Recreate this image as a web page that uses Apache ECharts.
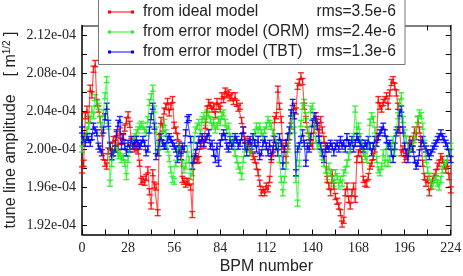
<!DOCTYPE html>
<html><head><meta charset="utf-8">
<script src="https://cdn.jsdelivr.net/npm/echarts@6/dist/echarts.min.js"></script>
<style>html,body{margin:0;padding:0;background:#fff}#c{width:463px;height:276px}</style>
</head><body><div id="c"></div>
<script>
// values in units of 1e-4 m^(1/2)
const seriesNames = ['from ideal model', 'from error model (ORM)', 'from error model (TBT)'];
const rmsLabels = ['rms=3.5e-6', 'rms=2.4e-6', 'rms=1.3e-6'];
const seriesColors = ['#ff0000', '#22ee22', '#0000ff'];
const xTickLabels = [0, 28, 56, 84, 112, 140, 168, 196, 224];
const yTickLabels = [1.92, 1.96, 2.00, 2.04, 2.08, 2.12];
const yTickMarks = [1.92, 1.94, 1.96, 1.98, 2.00, 2.02, 2.04, 2.06, 2.08, 2.10, 2.12];
const errorHalf = [0.0032, 0.0032, 0.0032];

const ampIdeal = [
1.978,1.985,2.035,2.042,2.031,2.064,2.057,2.084,2.090,2.049,
2.042,2.031,2.017,1.992,1.985,1.982,1.998,2.004,1.995,2.010,
2.006,2.015,2.002,2.019,2.008,2.012,2.022,2.030,2.036,2.026,
2.008,2.003,2.000,2.002,1.998,1.985,1.966,1.968,1.965,1.970,
1.978,1.955,1.940,1.975,1.962,1.960,1.933,2.012,2.030,2.022,
2.040,2.045,2.050,2.038,2.045,2.052,2.025,2.020,2.013,2.005,
1.996,1.968,1.966,1.963,1.966,1.965,1.960,1.931,1.989,1.992,
1.988,1.989,2.003,2.010,2.004,2.025,2.042,2.049,2.046,2.042,
2.045,2.036,2.050,2.045,2.042,2.056,2.052,2.061,2.057,2.059,
2.054,2.056,2.050,2.056,2.048,2.043,2.045,2.030,2.020,2.010,
2.003,2.008,1.996,2.000,1.992,1.989,1.982,1.975,1.964,1.954,
1.957,1.954,1.961,1.958,1.968,1.989,1.996,2.031,2.035,2.063,
2.045,2.031,2.003,2.000,1.989,2.003,2.013,2.024,2.035,2.045,
2.040,2.066,2.070,2.077,2.071,2.045,2.031,2.020,2.013,2.006,
2.003,2.020,2.035,2.028,2.017,2.031,2.020,2.010,2.003,1.968,
1.961,1.954,1.975,1.961,1.950,1.945,1.940,1.933,1.921,1.925,
1.954,1.961,1.947,1.940,1.954,1.961,1.947,1.989,1.996,2.000,
1.989,1.968,1.964,1.963,1.971,1.982,1.985,1.992,2.000,2.010,
2.052,2.045,2.042,2.049,2.052,2.056,2.045,2.059,2.070,2.073,
2.066,2.059,2.045,2.020,1.996,2.000,1.989,1.992,1.996,2.010,
2.003,2.010,2.020,2.013,2.031,2.020,2.010,1.985,1.971,1.964,
1.968,1.954,1.961,1.968,1.971,1.975,1.982,1.985,1.992,1.989,
1.982,1.978,1.985,1.971,1.957];

const ampORM = [
2.000,2.006,2.012,2.020,2.024,2.031,2.042,2.035,2.054,2.048,
2.045,2.031,2.020,2.038,2.056,2.073,2.024,1.964,1.985,1.996,
2.003,2.000,1.993,1.996,1.989,1.992,1.985,1.971,1.989,2.000,
2.006,2.010,2.013,2.017,2.020,2.024,2.026,2.024,2.020,2.017,
2.031,2.049,2.055,2.064,2.042,2.020,2.003,1.996,2.010,2.020,
2.028,2.017,2.000,1.990,1.978,1.968,1.966,1.985,1.996,2.003,
1.992,1.985,1.978,1.982,2.000,1.989,1.971,1.975,2.010,2.020,
2.024,2.028,2.017,2.031,2.035,2.028,2.038,2.036,2.031,2.024,
2.028,2.020,2.024,2.031,2.028,2.035,2.038,2.028,2.020,2.024,
2.013,2.006,2.010,1.996,1.989,1.982,1.978,1.971,1.989,2.000,
2.006,2.003,1.996,2.000,2.013,2.017,2.024,2.020,2.024,2.017,
2.013,2.020,2.024,2.031,2.027,2.024,2.017,2.013,2.006,2.003,
1.989,1.968,1.954,1.968,1.982,2.000,2.013,2.024,2.038,2.020,
1.968,1.943,1.985,2.027,2.045,2.049,2.035,2.020,2.010,2.042,
2.045,2.027,2.010,2.003,2.006,2.000,1.992,1.985,1.978,1.971,
1.982,1.975,1.968,1.964,1.975,1.971,1.961,1.968,1.964,1.975,
1.978,1.985,1.992,2.000,2.006,2.013,2.042,2.020,2.024,2.013,
2.006,1.996,1.992,1.989,2.003,2.028,2.035,2.031,2.020,1.989,
1.978,1.975,1.982,1.996,1.985,2.003,1.985,1.989,2.003,2.010,
1.996,2.020,2.035,2.049,2.056,2.031,2.017,2.010,2.003,1.996,
2.000,2.006,2.010,2.020,2.031,2.038,2.035,2.024,2.006,1.989,
1.978,1.971,1.964,1.961,1.968,1.971,1.964,1.960,1.968,1.978,
1.985,1.982,1.989,1.996,2.003];

const ampTBT = [
2.020,2.010,2.006,2.013,2.010,2.006,2.013,2.024,2.020,2.017,
2.003,2.000,1.996,2.020,2.034,2.045,2.027,2.003,1.992,1.996,
2.000,2.017,2.027,2.031,2.003,2.013,2.003,1.996,2.006,2.000,
2.010,2.003,2.006,2.010,2.006,2.003,2.006,2.010,2.006,1.996,
2.000,2.020,2.034,2.045,2.024,1.992,1.996,2.006,2.013,2.006,
2.003,2.003,2.010,2.013,2.010,2.006,2.003,2.000,1.989,2.000,
1.992,2.003,2.000,2.017,2.031,2.033,2.010,1.982,1.989,1.996,
2.003,2.010,2.006,2.013,2.006,2.010,2.013,2.017,2.003,2.006,
1.996,1.989,2.003,1.985,2.006,2.013,2.017,2.013,2.003,2.000,
2.010,2.003,2.006,2.013,2.010,2.003,2.006,2.013,2.020,2.003,
1.996,2.006,2.010,2.003,2.013,2.006,2.000,2.010,1.992,1.996,
2.006,2.010,2.003,1.996,2.006,1.992,2.000,2.010,2.003,1.996,
2.013,2.006,1.982,2.000,2.006,2.013,2.020,2.038,2.049,2.035,
1.975,2.000,2.003,2.010,2.017,2.006,1.985,2.003,2.000,2.013,
2.027,2.035,2.031,2.024,2.010,2.003,1.996,1.989,2.000,2.003,
2.000,2.006,2.003,1.996,2.003,2.006,2.000,2.010,2.003,2.006,
2.000,2.013,2.006,2.003,2.010,2.000,2.006,2.013,2.010,2.006,
2.003,2.000,2.006,2.003,2.010,2.003,1.996,2.003,2.010,2.006,
2.013,2.017,2.020,2.024,2.017,2.010,2.003,2.006,1.996,1.989,
2.003,2.017,2.020,2.038,2.042,2.020,2.003,1.996,1.989,2.003,
2.006,2.000,1.989,1.982,1.985,1.996,2.006,2.010,2.003,2.000,
1.996,1.992,1.996,2.000,2.003,2.006,2.010,2.013,2.017,2.013,
2.010,2.006,2.003,1.996,1.989];

const allSeries = [ampIdeal, ampORM, ampTBT];

const chart = echarts.init(document.getElementById('c'), null, {renderer: 'canvas'});

function errRenderer(color) {
  return function (params, api) {
    const x = api.value(0), y = api.value(1), e = api.value(2);
    const t = api.coord([x, y + e]);
    const b = api.coord([x, y - e]);
    const hw = 3;
    const st = {stroke: color, lineWidth: 1.4, opacity: 0.85};
    return {type: 'group', children: [
      {type: 'line', shape: {x1: t[0], y1: t[1], x2: b[0], y2: b[1]}, style: st},
      {type: 'line', shape: {x1: t[0] - hw, y1: t[1], x2: t[0] + hw, y2: t[1]}, style: st},
      {type: 'line', shape: {x1: b[0] - hw, y1: b[1], x2: b[0] + hw, y2: b[1]}, style: st}
    ]};
  };
}

const series = [];
allSeries.forEach((vals, k) => {
  series.push({
    type: 'line', name: seriesNames[k],
    data: vals.map((v, i) => [i, v]),
    symbol: 'none',
    lineStyle: {width: 1.2, color: seriesColors[k], opacity: 0.65},
    itemStyle: {color: seriesColors[k]},
    z: 2, animation: false
  });
  series.push({
    type: 'custom', name: 'err' + k,
    data: vals.map((v, i) => [i, v, errorHalf[k]]),
    encode: {x: 0, y: 1},
    renderItem: errRenderer(seriesColors[k]),
    itemStyle: {color: seriesColors[k]},
    z: 2, animation: false
  });
});

const serif = 'Liberation Serif';
const sans = 'Liberation Sans';
const axisLineBL = {show: true, onZero: false, lineStyle: {color: '#000', width: 1.5}};
const axisLineTR = {show: true, onZero: false, lineStyle: {color: '#555', width: 1.5}};

chart.setOption({
  animation: false,
  backgroundColor: '#fff',
  grid: {left: 82, right: 12.3, top: 25.5, bottom: 41.5, containLabel: false, outerBoundsMode: 'none'},
  xAxis: [{
    type: 'value', min: 0, max: 224, interval: 28, position: 'bottom',
    axisLine: axisLineBL,
    axisTick: {show: true, inside: true, length: 5, lineStyle: {color: '#000'}},
    minorTick: {show: true, splitNumber: 2, length: 5, lineStyle: {color: '#000'}},
    axisLabel: {fontFamily: serif, fontSize: 14, color: '#222', margin: 7,
      customValues: xTickLabels},
    splitLine: {show: false}, minorSplitLine: {show: false},
    name: 'BPM number', nameLocation: 'middle', nameGap: 24, nameMoveOverlap: false,
    nameTextStyle: {fontFamily: sans, fontSize: 16, color: '#222'}
  }, {
    type: 'value', min: 0, max: 224, interval: 28, position: 'top',
    axisLine: axisLineTR,
    axisTick: {show: true, inside: true, length: 5, lineStyle: {color: '#000'}},
    minorTick: {show: true, splitNumber: 2, length: 5, lineStyle: {color: '#000'}},
    axisLabel: {show: false}, splitLine: {show: false}
  }],
  yAxis: [{
    type: 'value', min: 1.91, max: 2.13, position: 'left',
    axisLine: axisLineBL,
    axisTick: {show: true, inside: true, length: 5, lineStyle: {color: '#000'}, customValues: yTickMarks},
    axisLabel: {fontFamily: serif, fontSize: 14, color: '#222', margin: 6,
      customValues: yTickLabels,
      formatter: v => v.toFixed(2) + 'e-04'},
    splitLine: {show: false},
    name: 'tune line amplitude    [ m{s|1/2} ]', nameLocation: 'middle', nameGap: 62, nameRotate: 90,
    nameMoveOverlap: false,
    nameTextStyle: {fontFamily: sans, fontSize: 16, color: '#222',
      rich: {s: {fontFamily: sans, fontSize: 10, color: '#222', padding: [0, 0, 8, 0]}}}
  }, {
    type: 'value', min: 1.91, max: 2.13, position: 'right',
    axisLine: axisLineTR,
    axisTick: {show: true, inside: true, length: 5, lineStyle: {color: '#000'}, customValues: yTickMarks},
    axisLabel: {show: false}, splitLine: {show: false}
  }],
  graphic: [{
    type: 'rect', z: 3,
    shape: {x: 98.5, y: -2, width: 306.5, height: 66.5},
    style: {fill: '#fff', stroke: '#777', lineWidth: 1}
  }],
  legend: {
    data: seriesNames, orient: 'vertical', left: 108, top: 3, padding: 0,
    itemWidth: 26, itemHeight: 4, itemGap: 2, z: 5,
    selectedMode: false,
    icon: 'path://M0,0h3v3h-3zM0,1h26v1h-26zM23,0h3v3h-3z',
    formatter: name => '{n|' + name + '}{r|' + rmsLabels[seriesNames.indexOf(name)] + '}',
    textStyle: {fontFamily: sans, fontSize: 15.6, color: '#222', lineHeight: 18,
      rich: {
        n: {fontFamily: sans, fontSize: 15.6, color: '#222', width: 173.5, padding: [0, 0, 0, 4]},
        r: {fontFamily: sans, fontSize: 15.6, color: '#222'}
      }}
  },
  series: series
});
</script>
</body></html>
